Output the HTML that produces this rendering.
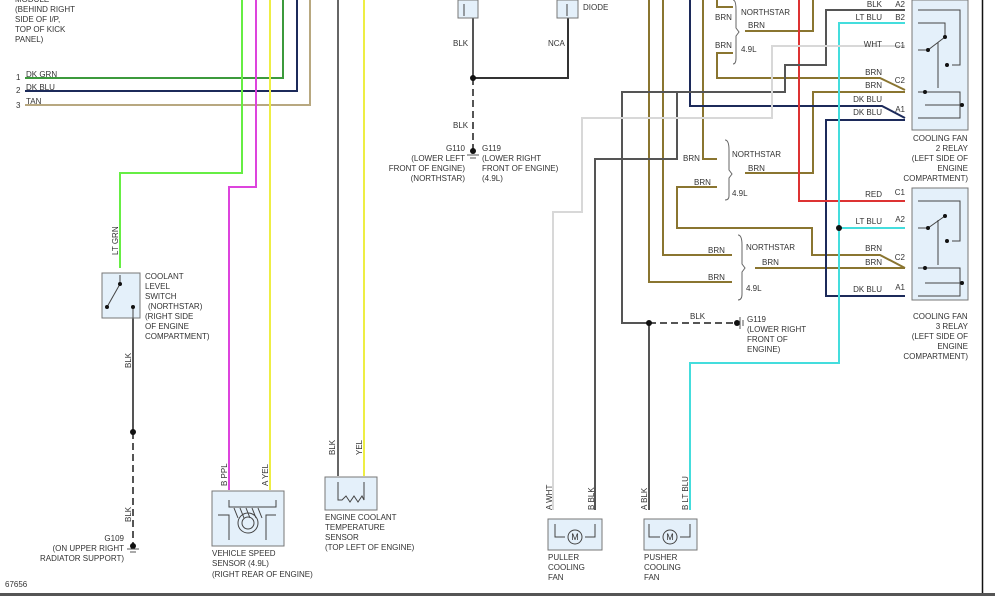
<!DOCTYPE html>
<html><head><meta charset="utf-8"><style>
html,body{margin:0;padding:0;background:#fff;}
svg{display:block;}
text{font-family:"Liberation Sans",sans-serif;font-size:8px;fill:#333;}
.r{text-anchor:end;}
</style></head><body>
<svg width="995" height="596" viewBox="0 0 995 596" xmlns="http://www.w3.org/2000/svg">
<rect width="995" height="596" fill="#fff"/>
<g fill="none" stroke-width="2">
<!-- left module wires -->
<polyline points="25,78 283,78 283,0" stroke="#3c9a3c"/>
<polyline points="25,91 297,91 297,0" stroke="#1c2a5a"/>
<polyline points="25,105 310,105 310,0" stroke="#b8a880"/>
<polyline points="242,0 242,173 120,173 120,268" stroke="#66ee44"/>
<polyline points="256,0 256,187 229,187 229,490" stroke="#dd44dd"/>
<polyline points="270,0 270,490" stroke="#eeee44"/>
<polyline points="338,0 338,476" stroke="#666"/>
<polyline points="364,0 364,476" stroke="#eeee44"/>
<!-- coolant switch ground -->
<polyline points="133,318 133,432" stroke="#555"/>
<line x1="133" y1="432" x2="133" y2="546" stroke="#555" stroke-dasharray="7,4"/>
<!-- center ground -->
<polyline points="473,18 473,78" stroke="#555"/>
<polyline points="568,18 568,78 473,78" stroke="#333"/>
<line x1="473" y1="78" x2="473" y2="152" stroke="#555" stroke-dasharray="7,4"/>
<!-- brown lines -->
<g stroke="#8a7530">
<polyline points="649,0 649,282 732,282"/>
<polyline points="663,0 663,255 732,255"/>
<polyline points="703,0 703,159 717,159"/>
<polyline points="717,0 717,7 733,7"/>
<polyline points="745,31 813,31 813,0"/>
<polyline points="733,53 717,53 717,78 880,78 905,90"/>
<polyline points="745,173 813,173 813,92 905,92"/>
<polyline points="717,187 677,187 677,228 812,228 812,255 880,255 905,268"/>
<polyline points="755,268 905,268"/>
</g>
<!-- dk blu -->
<polyline points="690,0 690,106 882,106 905,118" stroke="#1c2a5a"/>
<polyline points="905,120 826,120 826,296 905,296" stroke="#1c2a5a"/>
<!-- red -->
<polyline points="799,0 799,201 905,201" stroke="#dd3333"/>
<!-- cyan -->
<polyline points="905,23 839,23 839,363 690,363 690,510" stroke="#44dddd"/>
<polyline points="839,228 905,228" stroke="#44dddd"/>
<!-- gray blk -->
<polyline points="905,10 826,10 826,65 785,65 785,92 622,92 622,323 649,323" stroke="#555"/>
<polyline points="677,92 677,159 595,159 595,510" stroke="#555"/>
<polyline points="649,323 649,510" stroke="#555"/>
<line x1="649" y1="323" x2="737" y2="323" stroke="#555" stroke-dasharray="7,4"/>
<!-- wht -->
<polyline points="905,46 772,46 772,118 582,118 582,212 553,212 553,510" stroke="#d8d8d8"/>
</g>
<!-- braces -->
<g fill="none" stroke="#666" stroke-width="1">
<path d="M733,0 Q736,0 736,10 L736,28 L739,32 L736,36 L736,58 Q736,64 733,64"/>
<path d="M725,140 Q729,140 729,150 L729,170 L732,174 L729,178 L729,196 Q729,200 725,200"/>
<path d="M738,235 Q742,235 742,245 L742,264 L745,268 L742,272 L742,294 Q742,300 738,300"/>
</g>
<!-- dots -->
<g fill="#111">
<circle cx="133" cy="432" r="3"/><circle cx="133" cy="546" r="3"/>
<circle cx="473" cy="78" r="3"/><circle cx="473" cy="151" r="3"/>
<circle cx="649" cy="323" r="3"/><circle cx="737" cy="323" r="3"/>
<circle cx="839" cy="228" r="3"/>
</g>
<!-- ground symbols -->
<g stroke="#555" stroke-width="1">
<line x1="127" y1="549" x2="139" y2="549"/><line x1="130" y1="552" x2="136" y2="552"/>
<line x1="467" y1="155" x2="479" y2="155"/><line x1="470" y1="158" x2="476" y2="158"/>
<line x1="740" y1="317" x2="740" y2="329"/><line x1="743" y1="320" x2="743" y2="326"/>
</g>
<!-- boxes -->
<g fill="#e4f0fa" stroke="#777" stroke-width="1">
<rect x="102" y="273" width="38" height="45"/>
<rect x="458" y="0" width="20" height="18"/>
<rect x="557" y="0" width="21" height="18"/>
<rect x="912" y="0" width="56" height="130"/>
<rect x="912" y="188" width="56" height="112"/>
<rect x="212" y="491" width="72" height="55"/>
<rect x="325" y="477" width="52" height="33"/>
<rect x="548" y="519" width="54" height="31"/>
<rect x="644" y="519" width="53" height="31"/>
</g>
<!-- internals -->
<g fill="none" stroke="#444" stroke-width="1">
<line x1="107" y1="307" x2="120" y2="284"/><line x1="120" y1="275" x2="120" y2="284"/><line x1="133" y1="307" x2="133" y2="318"/>
<path d="M918,10 H960 V65 H952 M918,23 H945 V37 M918,50 H928 L945,37 M938,42 V88 M918,92 H960 V105 H925 M918,118 H960 V105"/>
<path d="M918,201 H960 V241 H952 M918,228 H928 L945,216 M938,220 V265 M918,268 H960 V283 H925 M918,296 H960 V283"/>
<path d="M229,500 V507 H276 V500 M218,515 H229 V540 M276,515 H266 V540"/>
<circle cx="248" cy="523" r="10"/><circle cx="248" cy="523" r="6"/>
<path d="M234,508 l4,10 M240,508 l4,10 M246,508 l4,10 M252,508 l4,10 M258,508 l4,10"/>
<path d="M338,482 V500 H342 L346,496 L350,502 L354,496 L358,502 L362,496 L364,500 V482"/>
<path d="M555,524 V537 H565 M595,524 V537 H585"/><circle cx="575" cy="537" r="7"/>
<path d="M649,524 V537 H660 M690,524 V537 H680"/><circle cx="670" cy="537" r="7"/>
<path d="M464,4 V16 M567,4 V16"/>
</g>
<g fill="#111"><circle cx="120" cy="284" r="2"/><circle cx="107" cy="307" r="2"/><circle cx="133" cy="307" r="2"/>
<circle cx="928" cy="50" r="2"/><circle cx="945" cy="37" r="2"/><circle cx="947" cy="65" r="2"/><circle cx="925" cy="92" r="2"/><circle cx="962" cy="105" r="2"/>
<circle cx="928" cy="228" r="2"/><circle cx="945" cy="216" r="2"/><circle cx="947" cy="241" r="2"/><circle cx="925" cy="268" r="2"/><circle cx="962" cy="283" r="2"/></g>
<text x="575" y="540" text-anchor="middle" style="font-size:9px">M</text>
<text x="670" y="540" text-anchor="middle" style="font-size:9px">M</text>
<!-- borders -->
<line x1="982.5" y1="0" x2="982.5" y2="594" stroke="#111" stroke-width="1.5"/>
<rect x="0" y="593" width="995" height="3" fill="#555"/>
<!-- text -->
<text x="15" y="2">MODULE</text>
<text x="15" y="12">(BEHIND RIGHT</text><text x="15" y="22">SIDE OF I/P,</text><text x="15" y="32">TOP OF KICK</text><text x="15" y="42">PANEL)</text>
<text x="16" y="80">1</text><text x="26" y="77">DK GRN</text>
<text x="16" y="93">2</text><text x="26" y="90">DK BLU</text>
<text x="16" y="108">3</text><text x="26" y="104">TAN</text>
<text x="145" y="279">COOLANT</text><text x="145" y="289">LEVEL</text><text x="145" y="299">SWITCH</text><text x="148" y="309">(NORTHSTAR)</text><text x="145" y="319">(RIGHT SIDE</text><text x="145" y="329">OF ENGINE</text><text x="145" y="339">COMPARTMENT)</text>
<text class="r" x="124" y="541">G109</text><text class="r" x="124" y="551">(ON UPPER RIGHT</text><text class="r" x="124" y="561">RADIATOR SUPPORT)</text>
<text x="5" y="587">67656</text>
<text x="212" y="556">VEHICLE SPEED</text><text x="212" y="566">SENSOR   (4.9L)</text><text x="212" y="577">(RIGHT REAR OF ENGINE)</text>
<text x="325" y="520">ENGINE COOLANT</text><text x="325" y="530">TEMPERATURE</text><text x="325" y="540">SENSOR</text><text x="325" y="550">(TOP LEFT OF ENGINE)</text>
<text x="453" y="46">BLK</text><text x="548" y="46">NCA</text><text x="583" y="10">DIODE</text>
<text x="453" y="128">BLK</text>
<text class="r" x="465" y="151">G110</text><text class="r" x="465" y="161">(LOWER LEFT</text><text class="r" x="465" y="171">FRONT OF ENGINE)</text><text class="r" x="465" y="181">(NORTHSTAR)</text>
<text x="482" y="151">G119</text><text x="482" y="161">(LOWER RIGHT</text><text x="482" y="171">FRONT OF ENGINE)</text><text x="482" y="181">(4.9L)</text>
<text x="715" y="20">BRN</text><text x="741" y="15">NORTHSTAR</text><text x="748" y="28">BRN</text><text x="715" y="48">BRN</text><text x="741" y="52">4.9L</text>
<text x="683" y="161">BRN</text><text x="732" y="157">NORTHSTAR</text><text x="748" y="171">BRN</text><text x="694" y="185">BRN</text><text x="732" y="196">4.9L</text>
<text x="708" y="253">BRN</text><text x="746" y="250">NORTHSTAR</text><text x="762" y="265">BRN</text><text x="708" y="280">BRN</text><text x="746" y="291">4.9L</text>
<text x="690" y="319">BLK</text>
<text x="747" y="322">G119</text><text x="747" y="332">(LOWER RIGHT</text><text x="747" y="342">FRONT OF</text><text x="747" y="352">ENGINE)</text>
<text class="r" x="882" y="7">BLK</text><text class="r" x="882" y="20">LT BLU</text><text class="r" x="882" y="47">WHT</text><text class="r" x="882" y="75">BRN</text><text class="r" x="882" y="88">BRN</text><text class="r" x="882" y="102">DK BLU</text><text class="r" x="882" y="115">DK BLU</text>
<text class="r" x="905" y="7">A2</text><text class="r" x="905" y="20">B2</text><text class="r" x="905" y="48">C1</text><text class="r" x="905" y="83">C2</text><text class="r" x="905" y="112">A1</text>
<text class="r" x="882" y="197">RED</text><text class="r" x="882" y="224">LT BLU</text><text class="r" x="882" y="251">BRN</text><text class="r" x="882" y="265">BRN</text><text class="r" x="882" y="292">DK BLU</text>
<text class="r" x="905" y="195">C1</text><text class="r" x="905" y="222">A2</text><text class="r" x="905" y="260">C2</text><text class="r" x="905" y="290">A1</text>
<text x="913" y="141">COOLING FAN</text><text class="r" x="968" y="151">2 RELAY</text><text class="r" x="968" y="161">(LEFT SIDE OF</text><text class="r" x="968" y="171">ENGINE</text><text class="r" x="968" y="181">COMPARTMENT)</text>
<text x="913" y="319">COOLING FAN</text><text class="r" x="968" y="329">3 RELAY</text><text class="r" x="968" y="339">(LEFT SIDE OF</text><text class="r" x="968" y="349">ENGINE</text><text class="r" x="968" y="359">COMPARTMENT)</text>
<text x="548" y="560">PULLER</text><text x="548" y="570">COOLING</text><text x="548" y="580">FAN</text>
<text x="644" y="560">PUSHER</text><text x="644" y="570">COOLING</text><text x="644" y="580">FAN</text>
<!-- vertical labels -->
<text transform="translate(118,255) rotate(-90)">LT GRN</text>
<text transform="translate(131,368) rotate(-90)">BLK</text>
<text transform="translate(131,522) rotate(-90)">BLK</text>
<text transform="translate(227,486) rotate(-90)">B  PPL</text>
<text transform="translate(268,486) rotate(-90)">A  YEL</text>
<text transform="translate(335,455) rotate(-90)">BLK</text>
<text transform="translate(362,455) rotate(-90)">YEL</text>
<text transform="translate(552,510) rotate(-90)">A    WHT</text>
<text transform="translate(594,510) rotate(-90)">B   BLK</text>
<text transform="translate(647,510) rotate(-90)">A   BLK</text>
<text transform="translate(688,510) rotate(-90)">B   LT BLU</text>
</svg>
</body></html>
